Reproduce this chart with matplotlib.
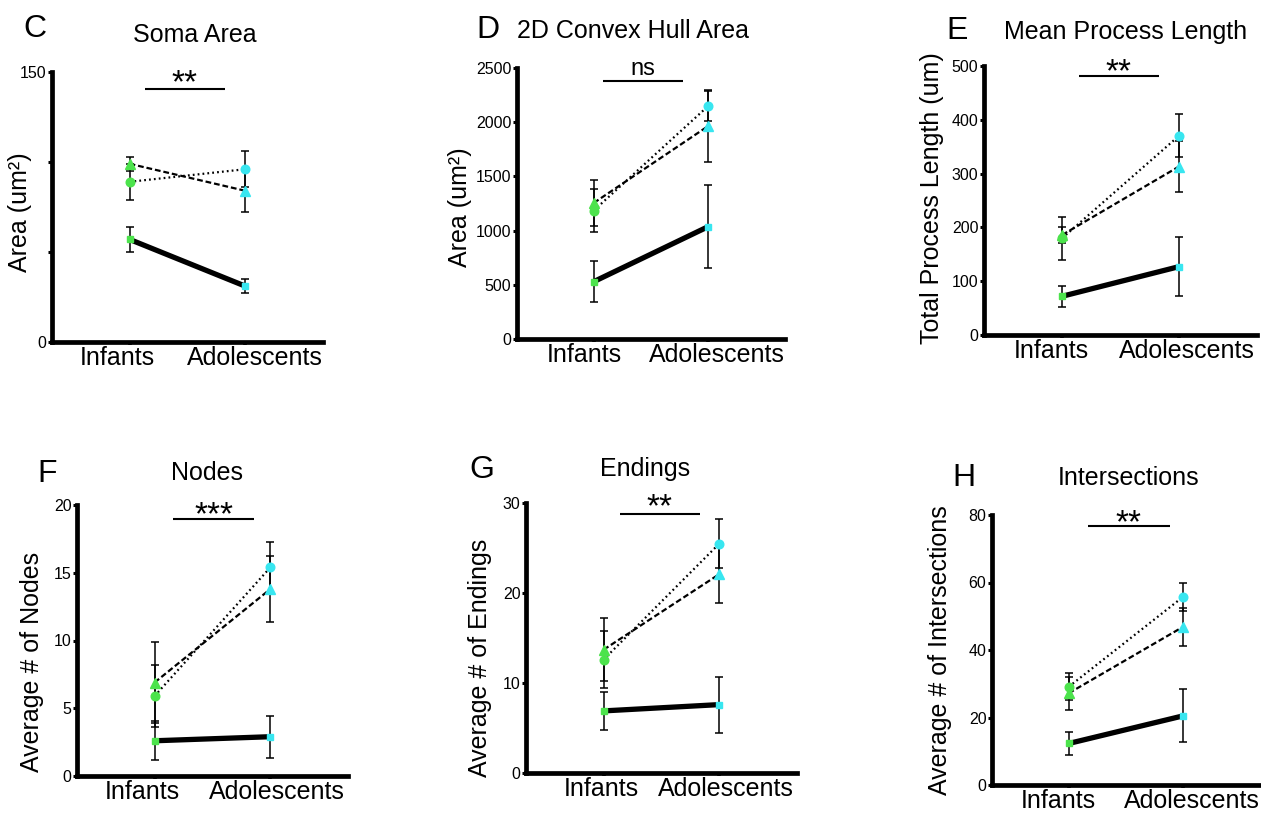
import matplotlib
matplotlib.use('Agg')
import matplotlib.pyplot as plt
import numpy as np

plt.rcParams['font.family'] = ['Liberation Sans', 'DejaVu Sans']

# ---------------- data ----------------
groups = ['Infants', 'Adolescents']

panel_letters = ['C', 'D', 'E', 'F', 'G', 'H']
titles = ['Soma Area', '2D Convex Hull Area', 'Mean Process Length',
          'Nodes', 'Endings', 'Intersections']
ylabels = ['Area (um²)', 'Area (um²)', 'Total Process Length (um)',
           'Average # of Nodes', 'Average # of Endings', 'Average # of Intersections']
ymax = [150, 2500, 500, 20, 30, 80]
ystep = [50, 500, 100, 5, 10, 20]
sig_labels = ['**', 'ns', '**', '***', '**', '**']
sig_y = [140.6, 2382, 481, 19.0, 28.8, 76.7]

# Soma area
soma_solid = [57, 31]
soma_solid_err = [7, 4]
soma_dotted = [89, 96]
soma_dotted_err = [10, 10]
soma_dashed = [99, 84]
soma_dashed_err = [4, 12]

# 2D convex hull area
hull_solid = [529, 1037]
hull_solid_err = [190, 385]
hull_dotted = [1185, 2150]
hull_dotted_err = [195, 140]
hull_dashed = [1255, 1965]
hull_dashed_err = [215, 330]

# Mean process length
length_solid = [72, 127]
length_solid_err = [20, 55]
length_dotted = [180, 370]
length_dotted_err = [40, 40]
length_dashed = [186, 313]
length_dashed_err = [15, 48]

# Nodes
nodes_solid = [2.6, 2.9]
nodes_solid_err = [1.45, 1.55]
nodes_dotted = [5.9, 15.4]
nodes_dotted_err = [2.3, 1.9]
nodes_dashed = [6.9, 13.8]
nodes_dashed_err = [3.0, 2.4]

# Endings
endings_solid = [6.9, 7.6]
endings_solid_err = [2.1, 3.1]
endings_dotted = [12.6, 25.5]
endings_dotted_err = [3.2, 2.7]
endings_dashed = [13.7, 22.1]
endings_dashed_err = [3.5, 3.2]

# Intersections
inter_solid = [12.3, 20.5]
inter_solid_err = [3.3, 7.8]
inter_dotted = [29.1, 55.8]
inter_dotted_err = [4.0, 4.2]
inter_dashed = [27.2, 46.9]
inter_dashed_err = [4.9, 5.6]

panel_series = [
    (soma_solid, soma_solid_err, soma_dotted, soma_dotted_err, soma_dashed, soma_dashed_err),
    (hull_solid, hull_solid_err, hull_dotted, hull_dotted_err, hull_dashed, hull_dashed_err),
    (length_solid, length_solid_err, length_dotted, length_dotted_err, length_dashed, length_dashed_err),
    (nodes_solid, nodes_solid_err, nodes_dotted, nodes_dotted_err, nodes_dashed, nodes_dashed_err),
    (endings_solid, endings_solid_err, endings_dotted, endings_dotted_err, endings_dashed, endings_dashed_err),
    (inter_solid, inter_solid_err, inter_dotted, inter_dotted_err, inter_dashed, inter_dashed_err),
]

# ---------------- layout (pixels) ----------------
W, H = 1261, 814
boxes = [(52, 323, 72, 342), (517, 785, 68, 339), (984, 1257, 66, 335),
         (77, 348, 505, 776), (526, 797, 503, 773), (992, 1260, 515, 785)]
title_pos = [(195, 35), (633, 31), (1126, 32), (207, 473), (645, 469), (1129, 478)]
letter_pos = [(35, 29), (488, 30), (957, 31), (47, 474), (482, 470), (964, 478)]
ylabel_pos = [(20, 212), (460, 207), (932, 198), (32, 662), (480, 658), (940, 650)]
inf_off = [-0.104, -0.084, -0.096, -0.105, -0.02, -0.09]
adol_off = [0.084, 0.072, 0.066, 0.057, 0.06, 0.073]
sig_x = [(0.13, 0.82), (0.08, 0.78), (0.14, 0.83), (0.16, 0.86), (0.14, 0.83), (0.17, 0.88)]
star_off_px = [16, 12, 14, 14, 17, 13]

GREEN = '#4CE34C'
CYAN = '#38E6F0'
colors = [GREEN, CYAN]

fig = plt.figure(figsize=(W / 100, H / 100), dpi=100)
xpos = np.arange(len(groups))

for i in range(6):
    l, r, t, b = boxes[i]
    ax = fig.add_axes([l / W, 1 - b / H, (r - l) / W, (b - t) / H])
    solid, solid_err, dotted, dotted_err, dashed, dashed_err = panel_series[i]

    # connecting lines
    ax.plot(xpos, solid, color='black', lw=3.8, solid_capstyle='butt', zorder=2, clip_on=False)
    ax.plot(xpos, dotted, color='black', lw=1.6, linestyle=(0, (0.8, 1.4)), zorder=2, clip_on=False)
    ax.plot(xpos, dashed, color='black', lw=1.6, linestyle=(0, (2.6, 1.3)), zorder=2, clip_on=False)

    # error bars
    for vals, errs in [(solid, solid_err), (dotted, dotted_err), (dashed, dashed_err)]:
        ax.errorbar(xpos, vals, yerr=errs, fmt='none', ecolor='black', elinewidth=1.1,
                    capsize=3.2, capthick=1.1, zorder=3, clip_on=False)

    # markers
    for j in range(2):
        ax.plot(xpos[j], solid[j], marker='s', ms=5, color=colors[j], mec=colors[j], zorder=4, clip_on=False)
        ax.plot(xpos[j], dotted[j], marker='o', ms=6.2, color=colors[j], mec=colors[j], zorder=4, clip_on=False)
        ax.plot(xpos[j], dashed[j], marker='^', ms=6.5, color=colors[j], mec=colors[j], zorder=4, clip_on=False)

    ax.set_xlim(-0.67, 1.67)
    ax.set_ylim(0, ymax[i])

    # spines
    for s in ['top', 'right']:
        ax.spines[s].set_visible(False)
    for s in ['left', 'bottom']:
        ax.spines[s].set_linewidth(3.4)
        ax.spines[s].set_capstyle('projecting')

    # y ticks
    yt = np.arange(0, ymax[i] + ystep[i] / 2, ystep[i])
    ax.set_yticks(yt)
    if i == 0:
        ax.set_yticklabels(['0', '', '', '150'])
    else:
        ax.set_yticklabels([f'{int(v)}' for v in yt])
    ax.tick_params(axis='y', which='major', length=3, width=2.2, pad=1, labelsize=11.5)

    # x ticks: marks at categories, labels as minor ticks slightly offset
    ax.set_xticks(xpos)
    ax.set_xticklabels(['', ''])
    ax.tick_params(axis='x', which='major', length=2.5, width=2.6)
    ax.set_xticks([xpos[0] + inf_off[i], xpos[1] + adol_off[i]], groups, minor=True)
    ax.tick_params(axis='x', which='minor', length=0, pad=3, labelsize=18)

    # y label
    ax.set_ylabel(ylabels[i], fontsize=18, va='center', ha='center')
    ax.yaxis.set_label_coords((ylabel_pos[i][0] - l) / (r - l), (b - ylabel_pos[i][1]) / (b - t))

    # title
    ax.set_title(titles[i], fontsize=18, x=(title_pos[i][0] - l) / (r - l),
                 y=(b - title_pos[i][1]) / (b - t), va='center', ha='center', pad=0)
    # panel letter
    ax.text((letter_pos[i][0] - l) / (r - l), (b - letter_pos[i][1]) / (b - t), panel_letters[i],
            transform=ax.transAxes, fontsize=23, ha='center', va='center')

    # significance bar
    x0, x1 = sig_x[i]
    ax.plot([x0, x1], [sig_y[i], sig_y[i]], color='black', lw=1.5, clip_on=False, solid_capstyle='butt')
    if sig_labels[i] == 'ns':
        fs = 17
        center_above_base = 0.26 * fs * 100 / 72
    else:
        fs = 24
        center_above_base = 0.58 * fs * 100 / 72
    off_pt = (star_off_px[i] - center_above_base) * 72 / 100
    ax.annotate(sig_labels[i], xy=((x0 + x1) / 2, sig_y[i]), xytext=(0, off_pt),
                textcoords='offset points', ha='center', va='baseline', fontsize=fs,
                annotation_clip=False)

fig.savefig('out.png', dpi=100)
